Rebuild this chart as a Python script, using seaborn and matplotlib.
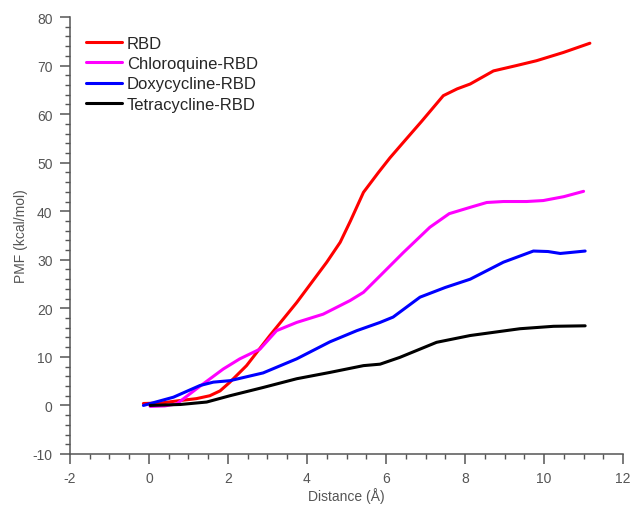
import numpy as np
import pandas as pd
import seaborn as sns
import matplotlib.pyplot as plt
from matplotlib.ticker import MultipleLocator

# values
rbd_x = [-0.14, 0.3, 0.78, 1.2, 1.54, 1.8, 2.05, 2.47, 3.06, 3.74, 4.5, 4.84, 5.1, 5.43, 5.81,
         6.1, 6.44, 6.9, 7.45, 7.8, 8.13, 8.72, 9.3, 9.81, 10.49, 11.16]
rbd_y = [0.4, 0.5, 1.0, 1.4, 2.0, 3.0, 4.8, 8.2, 14.4, 21.2, 29.5, 33.6, 38.0, 43.9, 48.0,
         51.0, 54.2, 58.5, 63.8, 65.2, 66.2, 68.9, 70.0, 71.0, 72.7, 74.6]

chl_x = [0.03, 0.4, 0.7, 1.2, 1.88, 2.3, 2.81, 3.23, 3.74, 4.41, 5.09, 5.43, 5.85, 6.44,
         7.11, 7.6, 8.13, 8.55, 8.97, 9.56, 9.98, 10.5, 11.0]
chl_y = [-0.2, -0.1, 0.3, 3.4, 7.5, 9.6, 11.6, 15.4, 17.1, 18.8, 21.6, 23.3, 26.7, 31.5,
         36.7, 39.5, 40.8, 41.8, 42.0, 42.0, 42.2, 43.0, 44.1]

dox_x = [-0.14, 0.62, 1.29, 1.63, 2.05, 2.89, 3.74, 4.58, 5.26, 5.85, 6.18, 6.86, 7.5,
         8.13, 8.97, 9.73, 10.1, 10.41, 11.04]
dox_y = [0.0, 1.7, 4.1, 4.8, 5.1, 6.7, 9.6, 13.1, 15.4, 17.1, 18.2, 22.3, 24.3,
         26.0, 29.5, 31.8, 31.7, 31.3, 31.8]

tet_x = [0.03, 0.8, 1.46, 2.05, 2.89, 3.74, 4.58, 5.43, 5.85, 6.35, 7.28, 8.13, 9.39,
         10.24, 11.04]
tet_y = [0.0, 0.2, 0.7, 2.0, 3.7, 5.5, 6.8, 8.2, 8.5, 9.9, 13.0, 14.4, 15.8,
         16.3, 16.4]

names = ["RBD", "Chloroquine-RBD", "Doxycycline-RBD", "Tetracycline-RBD"]
colors = ["#ff0000", "#ff00ff", "#0000ff", "#000000"]

frames = []
for name, xs, ys in zip(names, [rbd_x, chl_x, dox_x, tet_x], [rbd_y, chl_y, dox_y, tet_y]):
    frames.append(pd.DataFrame({"Distance": xs, "PMF": ys, "System": name}))
df = pd.concat(frames, ignore_index=True)

sns.set_style("ticks")
plt.rcParams['font.family'] = ['Liberation Sans', 'DejaVu Sans']
plt.rcParams['axes.unicode_minus'] = False

fig = plt.figure(figsize=(6.3, 5.06), dpi=100)
ax = fig.add_axes([0.111, 0.1008, 0.878, 0.8636])

sns.lineplot(data=df, x="Distance", y="PMF", hue="System", hue_order=names,
             palette=colors, linewidth=2.2, sort=False, ax=ax)

gray = "#555555"
ax.set_xlim(-2, 12)
ax.set_ylim(-10, 80)
ax.xaxis.set_major_locator(MultipleLocator(2))
ax.xaxis.set_minor_locator(MultipleLocator(0.5))
ax.yaxis.set_major_locator(MultipleLocator(10))
ax.yaxis.set_minor_locator(MultipleLocator(2))
ax.tick_params(which="major", direction="out", length=7.5, width=1.1, color=gray,
               labelcolor=gray, labelsize=10, pad=5)
ax.tick_params(which="minor", direction="out", length=3.8, width=1.0, color=gray)
sns.despine(ax=ax)
for s in ["left", "bottom"]:
    ax.spines[s].set_color(gray)
    ax.spines[s].set_linewidth(1.1)

ax.set_xlabel("Distance (Å)", color=gray, fontsize=10, labelpad=1)
ax.set_ylabel("PMF (kcal/mol)", color=gray, fontsize=10, labelpad=3)

leg = ax.legend(loc="upper left", bbox_to_anchor=(0.029, 0.957), frameon=False,
                fontsize=12, handlelength=2.15, handletextpad=0.3, labelspacing=0.32,
                borderpad=0, borderaxespad=0)
for line in leg.get_lines():
    line.set_linewidth(2.2)

fig.savefig("out.png", dpi=100)
